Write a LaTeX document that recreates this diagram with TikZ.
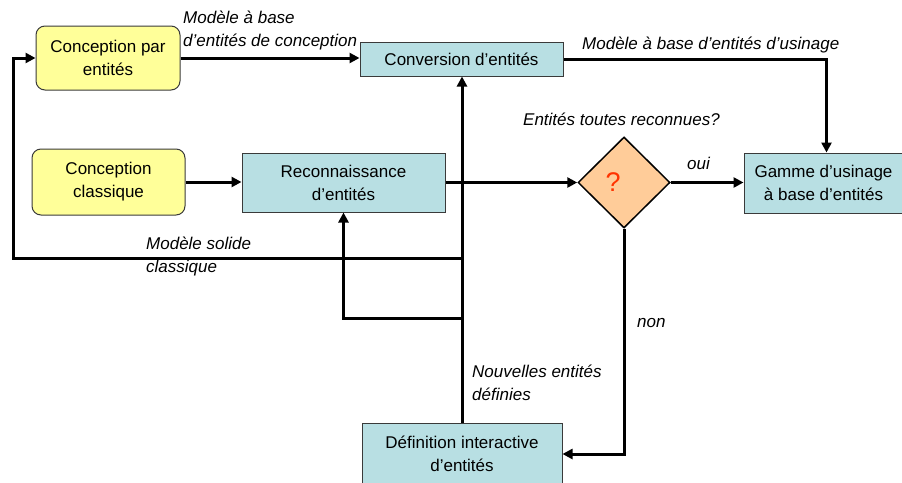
\documentclass[tikz,border=0pt]{standalone}
\usepackage{fontspec}
\setmainfont{Liberation Sans}
\usetikzlibrary{arrows.meta,shapes.geometric}
\definecolor{boxyellow}{HTML}{FFFF99}
\definecolor{boxblue}{HTML}{B8DFE3}
\definecolor{diafill}{HTML}{FFCC99}
\definecolor{qred}{HTML}{FF3300}
\definecolor{edge}{HTML}{3A3A3A}
\tikzset{
  ybox/.style={draw=edge, line width=1pt, fill=boxyellow, rounded corners=9pt, align=center, inner sep=0pt, font=\fontsize{17}{23}\selectfont},
  bbox/.style={draw=edge, line width=1pt, fill=boxblue, align=center, inner sep=0pt, font=\fontsize{17}{23}\selectfont},
  conn/.style={line width=3pt, -{Triangle[length=10pt,width=10pt]}},
  plain/.style={line width=3pt},
  lbl/.style={anchor=base west, inner sep=0pt, font=\fontsize{17}{23}\selectfont\itshape}
}
\begin{document}
\begin{tikzpicture}[x=1pt,y=-1pt]
\useasboundingbox (0,0) rectangle (902,482);
% nodes
\node[ybox, minimum width=144pt, minimum height=64pt] (cpe) at (108,58) {Conception par\\entités};
\node[ybox, minimum width=153pt, minimum height=66pt] (cc) at (108.5,182) {Conception\\classique};
\node[bbox, minimum width=203pt, minimum height=59pt] (rec) at (343.5,182.5) {Reconnaissance\\d’entités};
\node[bbox, minimum width=203pt, minimum height=34pt] (conv) at (461.5,59) {Conversion d’entités};
\node[bbox, minimum width=159pt, minimum height=60pt] (gam) at (823.5,183) {Gamme d’usinage\\à base d’entités};
\node[bbox, minimum width=200pt, minimum height=62pt, text depth=0pt] (def) at (462,454) {Définition interactive\\d’entités};
\node[diamond, draw=black, line width=1.5pt, fill=diafill, minimum width=92pt, minimum height=91pt, inner sep=0pt] (dia) at (624,182.5) {};
\node[text=qred, font=\fontsize{27}{27}\selectfont, inner sep=0pt] (q) at (613,182) {?};
% junction coordinates
\coordinate (j1) at (462,258);
\coordinate (j2) at (462,318);
\coordinate (c1) at (13,258);
\coordinate (c2) at (13,58);
% connectors
\draw[conn] (cpe.east) -- (conv.west |- cpe.east);
\draw[conn] (conv.east) -| ([xshift=3pt]gam.north);
\draw[conn] (cc.east) -- (rec.west |- cc.east);
\draw[conn] (rec.east) -- (dia.west);
\draw[conn] (dia.east) -- (gam.west |- dia.east);
\draw[conn] (dia.south) |- (def.east);
\draw[conn] (def.north) -- (def.north |- conv.south);
\draw[conn] (j2) -| (rec.south);
\draw[conn] (j1) -- (c1) -- (c2) -- (cpe.west);
% labels
\node[lbl] (l1) at (183,23.5) {Modèle à base};
\node[lbl] (l2) at (183,46.5) {d’entités de conception};
\node[lbl] (l3) at (582,49) {Modèle à base d’entités d’usinage};
\node[lbl] (l4) at (523,125.5) {Entités toutes reconnues?};
\node[lbl] (l5) at (687,169.5) {oui};
\node[lbl] (l6) at (146,249) {Modèle solide};
\node[lbl] (l7) at (146,272) {classique};
\node[lbl] (l8) at (472,377.5) {Nouvelles entités};
\node[lbl] (l9) at (472,400) {définies};
\node[lbl] (l10) at (637,327) {non};
\end{tikzpicture}
\end{document}
